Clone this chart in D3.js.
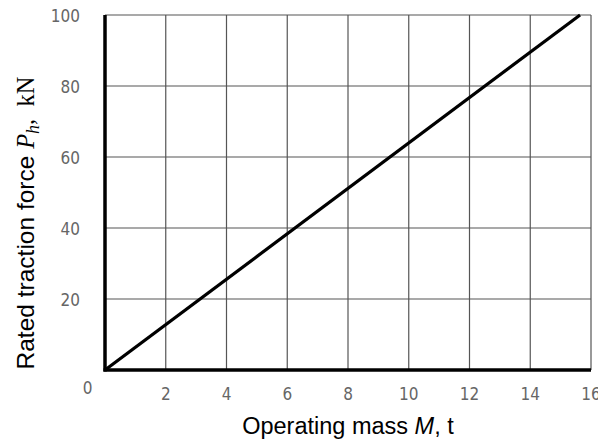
<!DOCTYPE html>
<html>
<head>
<meta charset="utf-8">
<script src="https://cdn.jsdelivr.net/npm/d3@7"></script>
<style>
  body { margin: 0; background: #fff; }
  svg { display: block; }
</style>
</head>
<body>
<div id="chart"></div>
<script>
const xTicks = [2, 4, 6, 8, 10, 12, 14, 16];
const yTicks = [20, 40, 60, 80, 100];
const massT = [0, 15.64];
const forceKN = [0, 100];

const width = 598, height = 441;
const m = { left: 105, right: 7, top: 15, bottom: 71 };

const svg = d3.select("#chart").append("svg")
  .attr("width", width).attr("height", height);

const x = d3.scaleLinear().domain([0, 16]).range([m.left, width - m.right]);
const y = d3.scaleLinear().domain([0, 100]).range([height - m.bottom, m.top]);

// grid
svg.append("g").selectAll("line").data(xTicks).join("line")
  .attr("x1", d => x(d)).attr("x2", d => x(d))
  .attr("y1", y(0)).attr("y2", y(100))
  .attr("stroke", "#555").attr("stroke-width", 1.2);
svg.append("g").selectAll("line").data(yTicks).join("line")
  .attr("x1", x(0)).attr("x2", x(16))
  .attr("y1", d => y(d)).attr("y2", d => y(d))
  .attr("stroke", "#555").attr("stroke-width", 1.2);

// thick axes
svg.append("line").attr("x1", x(0)).attr("x2", x(0)).attr("y1", y(0) + 1.5).attr("y2", y(100))
  .attr("stroke", "#000").attr("stroke-width", 3.5);
svg.append("line").attr("x1", x(0) - 1.5).attr("x2", x(16)).attr("y1", y(0)).attr("y2", y(0))
  .attr("stroke", "#000").attr("stroke-width", 3.5);

// data line
const pts = massT.map((d, i) => [d, forceKN[i]]);
svg.append("path").datum(pts)
  .attr("d", d3.line().x(d => x(d[0])).y(d => y(d[1])))
  .attr("fill", "none").attr("stroke", "#000").attr("stroke-width", 3.2);

const tickFont = "'Liberation Sans Narrow', 'DejaVu Sans Condensed', sans-serif";

// tick labels
svg.append("g").selectAll("text").data(xTicks).join("text")
  .attr("x", d => x(d)).attr("y", 400)
  .attr("text-anchor", "middle")
  .attr("font-family", tickFont).attr("font-size", 17).attr("fill", "#666")
  .text(d => d);
svg.append("g").selectAll("text").data(yTicks).join("text")
  .attr("x", 80).attr("y", d => y(d) + 7)
  .attr("text-anchor", "end")
  .attr("font-family", tickFont).attr("font-size", 17).attr("fill", "#666")
  .text(d => d);
svg.append("text").attr("x", 87.5).attr("y", 394)
  .attr("text-anchor", "middle")
  .attr("font-family", tickFont).attr("font-size", 17).attr("fill", "#666")
  .text("0");

// axis titles
const xt = svg.append("text").attr("x", 348).attr("y", 434)
  .attr("text-anchor", "middle")
  .attr("font-family", "'Liberation Sans', Arial, sans-serif").attr("font-size", 23.5).attr("fill", "#000");
xt.append("tspan").text("Operating mass ");
xt.append("tspan").attr("font-style", "italic").text("M");
xt.append("tspan").text(", t");

const yt = svg.append("text")
  .attr("transform", "translate(34,223) rotate(-90)")
  .attr("text-anchor", "middle")
  .attr("font-family", "'Liberation Sans', Arial, sans-serif").attr("font-size", 24.5).attr("fill", "#000");
yt.append("tspan").text("Rated traction force ");
yt.append("tspan").attr("font-family", "'Liberation Serif', 'Times New Roman', serif").attr("font-style", "italic").text("P");
yt.append("tspan").attr("font-family", "'Liberation Serif', 'Times New Roman', serif").attr("font-style", "italic")
  .attr("font-size", 18).attr("dy", 5).text("h");
yt.append("tspan").attr("font-family", "'Liberation Serif', 'Times New Roman', serif").attr("dy", -5).text(",\u00a0\u00a0kN");
</script>
</body>
</html>
